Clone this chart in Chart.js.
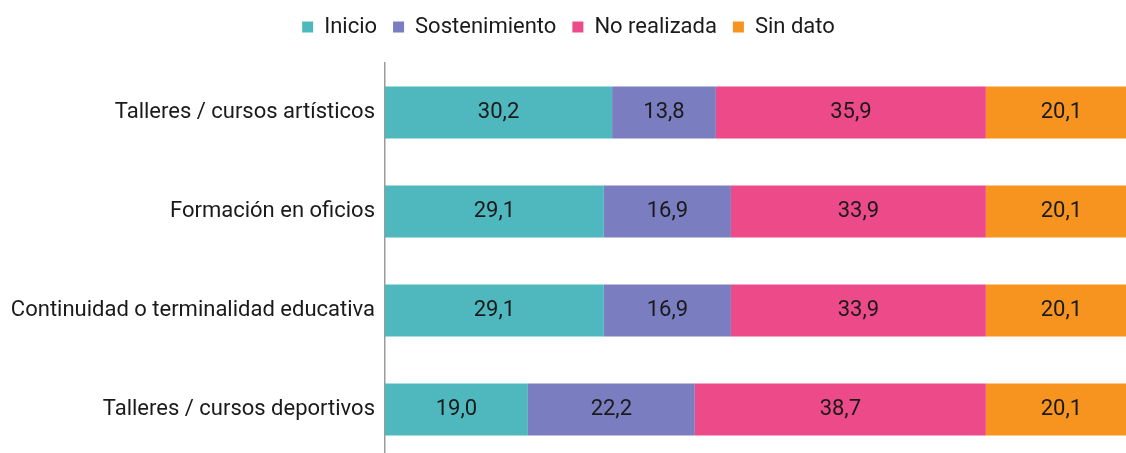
<!DOCTYPE html>
<html><head><meta charset="utf-8">
<script src="https://cdn.jsdelivr.net/npm/chart.js@4/dist/chart.umd.min.js"></script>
<style>
html,body{margin:0;padding:0;width:1126px;height:453px;overflow:hidden;background:#fff}
#wrap{width:1138px;height:460px;position:relative}
</style></head>
<body><div id="wrap"><canvas id="c" width="1138" height="460"></canvas></div>
<script>
const categories = ["Talleres / cursos artísticos","Formación en oficios","Continuidad o terminalidad educativa","Talleres / cursos deportivos"];
const seriesNames = ["Inicio","Sostenimiento","No realizada","Sin dato"];
const inicio = [30.2, 29.1, 29.1, 19.0];
const sostenimiento = [13.8, 16.9, 16.9, 22.2];
const noRealizada = [35.9, 33.9, 33.9, 38.7];
const sinDato = [20.1, 20.1, 20.1, 20.1];
const colors = ["#4FB8BE","#7A7DBF","#EC4A89","#F7941F"];
const FONT = "Roboto, 'Open Sans', sans-serif";

const valueLabels = {
  id:'valueLabels',
  beforeInit(chart){
    const lg = chart.legend;
    if (lg) {
      const f = lg.fit;
      lg.fit = function(){ f.call(this); this.height = 63; };
    }
  },
  afterDatasetsDraw(chart){
    const ctx = chart.ctx;
    ctx.save();
    ctx.font = "22px " + FONT;
    ctx.fillStyle = "#1a1a1a";
    ctx.textAlign = "center";
    ctx.textBaseline = "middle";
    chart.data.datasets.forEach((ds, di) => {
      const meta = chart.getDatasetMeta(di);
      meta.data.forEach((bar, i) => {
        const v = ds.data[i];
        const cx = (bar.x + bar.base) / 2;
        ctx.fillText(v.toFixed(1).replace('.', ','), cx, bar.y);
      });
    });
    ctx.restore();
  }
};

new Chart(document.getElementById('c'), {
  type: 'bar',
  data: {
    labels: categories,
    datasets: [inicio, sostenimiento, noRealizada, sinDato].map((d, i) => ({
      label: seriesNames[i], data: d, backgroundColor: colors[i], borderWidth: 0,
      categoryPercentage: 1, barPercentage: 0.525
    }))
  },
  options: {
    indexAxis: 'y',
    responsive: false,
    animation: false,
    devicePixelRatio: 1,
    layout: { padding: { left: 0, right: 1, top: 0, bottom: 1 } },
    plugins: {
      legend: {
        position: 'top',
        labels: { font: { size: 22, family: FONT }, color: '#1a1a1a', boxWidth: 11, boxHeight: 11, padding: 16 }
      },
      tooltip: { enabled: false }
    },
    scales: {
      x: { stacked: true, min: 0, max: 100, display: false },
      y: {
        stacked: true,
        grid: { display: false, drawTicks: false },
        border: { display: true, color: '#9a9a9a', width: 1.5 },
        ticks: { font: { size: 22, family: FONT }, color: '#1a1a1a', padding: 10 },
        afterFit(s) { s.width = 385; s.paddingTop = 0; s.paddingBottom = 0; }
      }
    }
  },
  plugins: [valueLabels]
});
</script></body></html>
